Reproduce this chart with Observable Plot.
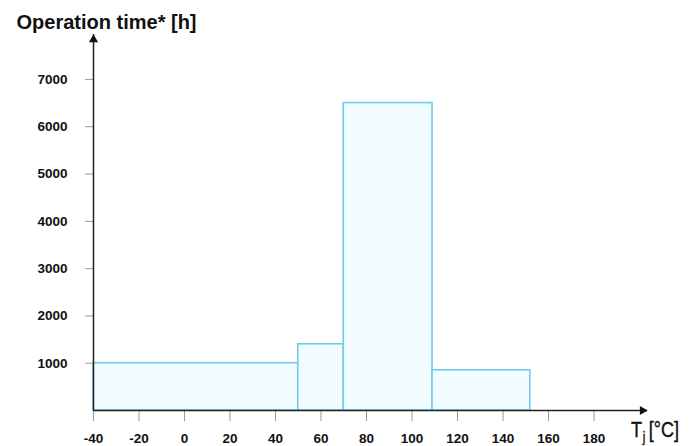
<!DOCTYPE html>
<html><head><meta charset="utf-8">
<script src="https://cdn.jsdelivr.net/npm/d3@7"></script>
<script src="https://cdn.jsdelivr.net/npm/@observablehq/plot@0.6"></script>
<style>body{margin:0;background:#fff}</style>
</head><body><div id="chart"></div>
<script>
// Data
const binStart = [-40, 50, 70, 109];
const binEnd = [50, 70, 109, 152];
const hours = [1000, 1400, 6500, 850];
const xTicks = [-40, -20, 0, 20, 40, 60, 80, 100, 120, 140, 160, 180];
const yTicks = [1000, 2000, 3000, 4000, 5000, 6000, 7000];
const titleText = "Operation time* [h]";
const xMax = 203.5, yMax = 7950;

const bins = binStart.map((s, i) => ({start: s, end: binEnd[i], hours: hours[i]}));

const xLabel = (index, scales, values, dim) => {
  const t = d3.create("svg:text")
    .attr("transform", `translate(${dim.width - 63},${dim.height - 9}) scale(0.82,1)`)
    .attr("text-anchor", "start")
    .attr("font-size", 22)
    .attr("fill", "#111")
    .attr("stroke", "#111")
    .attr("stroke-width", 0.4);
  t.append("tspan").text("T");
  t.append("tspan").attr("font-size", 14).attr("dy", 5).attr("dx", 1).text("j");
  t.append("tspan").attr("dy", -5).attr("dx", 4).text("[°C]");
  return t.node();
};

const chart = Plot.plot({
  width: 694, height: 446,
  marginLeft: 93, marginRight: 47, marginTop: 34, marginBottom: 36,
  style: {fontFamily: "'Liberation Sans', Arial, sans-serif", background: "#fff"},
  x: {domain: [-40, xMax], label: null},
  y: {domain: [0, yMax], label: null},
  marks: [
    Plot.rect(bins, {x1: "start", x2: "end", y1: 0, y2: "hours", fill: "#f0fcff", stroke: "#74c9ec", strokeWidth: 1.6}),
    Plot.axisX(xTicks, {label: null, tickSize: 11, tickPadding: 12, fontSize: 13.5, fontWeight: "bold", stroke: "#999", fill: "#111", tickFormat: d => String(d)}),
    Plot.axisY(yTicks, {label: null, tickSize: 8, tickPadding: 18, fontSize: 13.5, fontWeight: "bold", stroke: "#999", fill: "#111", tickFormat: d => String(d)}),
    Plot.ruleY([0], {x1: -40, x2: xMax, stroke: "#222", strokeWidth: 1.5}),
    Plot.ruleX([-40], {y1: 0, y2: yMax, stroke: "#222", strokeWidth: 1.5}),
    Plot.dot([0], {x: xMax, y: 0, symbol: "triangle", r: 3.4, rotate: 90, dx: -5, fill: "#111", stroke: "none"}),
    Plot.dot([0], {x: -40, y: yMax, symbol: "triangle", r: 3.4, dy: 5, fill: "#111", stroke: "none"}),
    Plot.text([titleText], {frameAnchor: "top-left", text: d => d, dx: -77, dy: -6, textAnchor: "start", lineAnchor: "bottom", fontSize: 20, fontWeight: "bold", fill: "#111"}),
    xLabel
  ]
});
document.getElementById("chart").appendChild(chart);
</script>
</body></html>
